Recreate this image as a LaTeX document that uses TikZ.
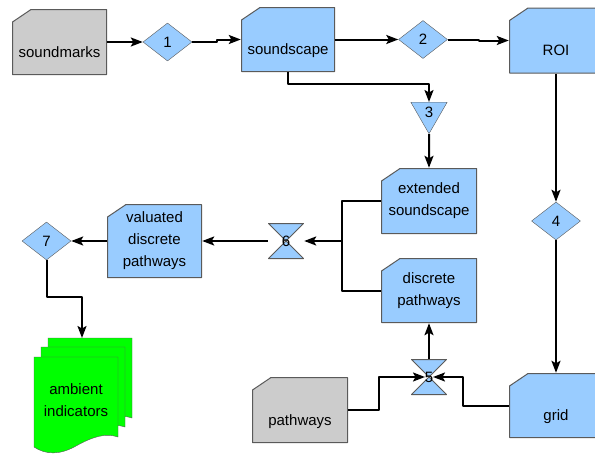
\documentclass[tikz,border=0pt]{standalone}
\usepackage{fontspec}
\setmainfont{Liberation Sans}
\usetikzlibrary{shapes.geometric,arrows.meta}
\definecolor{boxblue}{HTML}{99CCFF}
\definecolor{boxgray}{HTML}{CCCCCC}
\definecolor{pagegreen}{HTML}{00FF00}
\definecolor{edgegray}{HTML}{5A5A5A}
\begin{document}
\begin{tikzpicture}[x=1pt,y=-1pt,line join=round,>={Stealth[length=12pt,width=9pt,inset=2.5pt]},font=\fontsize{15}{22}\selectfont]
	\useasboundingbox (0,0) rectangle (595,455);
	\clip (0,0) rectangle (595,455);
	\tikzset{card/.style={fill=white,inner sep=0pt,align=center,
			path picture={\filldraw[fill=#1,draw=edgegray,line width=1pt]
				([shift={(0.5pt,-13pt)}]path picture bounding box.north west)
				--([shift={(19pt,-0.5pt)}]path picture bounding box.north west)
				--([shift={(-0.5pt,-0.5pt)}]path picture bounding box.north east)
				--([shift={(-0.5pt,0.5pt)}]path picture bounding box.south east)
				--([shift={(0.5pt,0.5pt)}]path picture bounding box.south west)--cycle;}},
		low/.style={text height=30pt,text depth=0pt},
		decision/.style={diamond,draw=edgegray,fill=boxblue,inner sep=0pt,minimum width=49pt,minimum height=38pt},
		merge/.style={regular polygon,regular polygon sides=3,shape border rotate=180,draw=edgegray,fill=boxblue,inner sep=0pt,minimum size=42pt},
		collate/.style={fill=white,inner sep=0pt,minimum size=36pt,
			path picture={\filldraw[fill=boxblue,draw=edgegray,line width=1pt]
				([shift={(0.5pt,-0.5pt)}]path picture bounding box.north west)
				--([shift={(-0.5pt,-0.5pt)}]path picture bounding box.north east)
				--([shift={(0.5pt,0.5pt)}]path picture bounding box.south west)
				--([shift={(-0.5pt,0.5pt)}]path picture bounding box.south east)--cycle;}},
		flow/.style={->,line width=2pt}}
	\node[card=boxgray,low,minimum width=95pt,minimum height=66pt] (smarks) at (59.5,42) {soundmarks};
	\node[decision] (d1) at (167.5,42) {1};
	\node[card=boxblue,low,minimum width=94pt,minimum height=65pt] (scape) at (288,39.5) {soundscape};
	\node[decision] (d2) at (423,39.5) {2};
	\node[card=boxblue,low,minimum width=94pt,minimum height=66pt] (roi) at (556,40.5) {ROI};
	\node[merge] (m3) at (429,112.7) {3};
	\node[card=boxblue,minimum width=96pt,minimum height=66pt] (extscape) at (429,201) {extended\\soundscape};
	\node[card=boxblue,minimum width=96pt,minimum height=65pt] (dpaths) at (429,290.5) {discrete\\pathways};
	\node[collate] (c6) at (286,241) {6};
	\node[card=boxblue,minimum width=95pt,minimum height=74pt] (vpaths) at (154.5,241) {valuated\\discrete\\pathways};
	\node[decision] (d7) at (46.5,241) {7};
	\node[decision] (d4) at (556,221) {4};
	\node[card=boxgray,low,minimum width=96pt,minimum height=66pt] (paths) at (300,410) {pathways};
	\node[collate] (c5) at (429,377) {5};
	\node[card=boxblue,low,minimum width=94pt,minimum height=65pt] (grid) at (556,405.5) {grid};
	% ambient indicators
	\foreach \dx/\dy in {14/-19,7/-10,0/0}
		\filldraw[fill=pagegreen,draw=edgegray,shift={(\dx,\dy)}] (34,357)--(118,357)--(118,437)
			.. controls (106,433) and (94,436) .. (76,446) .. controls (60,455) and (46,455) .. (34,447)--cycle;
	\node[align=center] (amb) at (76,400) {ambient\\indicators};
	\coordinate (pages) at (82,338);
	\coordinate (j6) at (342,241);
	\draw[flow] (smarks)--(d1);
	\draw[flow] (d1.east)--++(25,0)|-(scape.west);
	\draw[flow] (scape)--(d2);
	\draw[flow] (d2.east)--++(31,0)|-(roi.west);
	\draw[flow] (scape.south)--++(0,12)-|(m3.north);
	\draw[flow] (m3.south)--(extscape.north);
	\draw[line width=2pt] (extscape.west)-|(j6)|-(dpaths.west);
	\draw[flow] (j6)--(c6.east);
	\draw[flow] (c6)--(vpaths);
	\draw[flow] (vpaths)--(d7);
	\draw[flow] (d7.south)--++(0,37)-|(pages);
	\draw[flow] (roi)--(d4);
	\draw[flow] (d4)--(grid);
	\draw[flow] (paths.east)--++(31,0)|-([xshift=-4pt]c5.center);
	\draw[flow] (grid.west)--++(-46,0)|-([xshift=4pt]c5.center);
	\draw[flow] (c5.north)--(dpaths.south);
\end{tikzpicture}
\end{document}
